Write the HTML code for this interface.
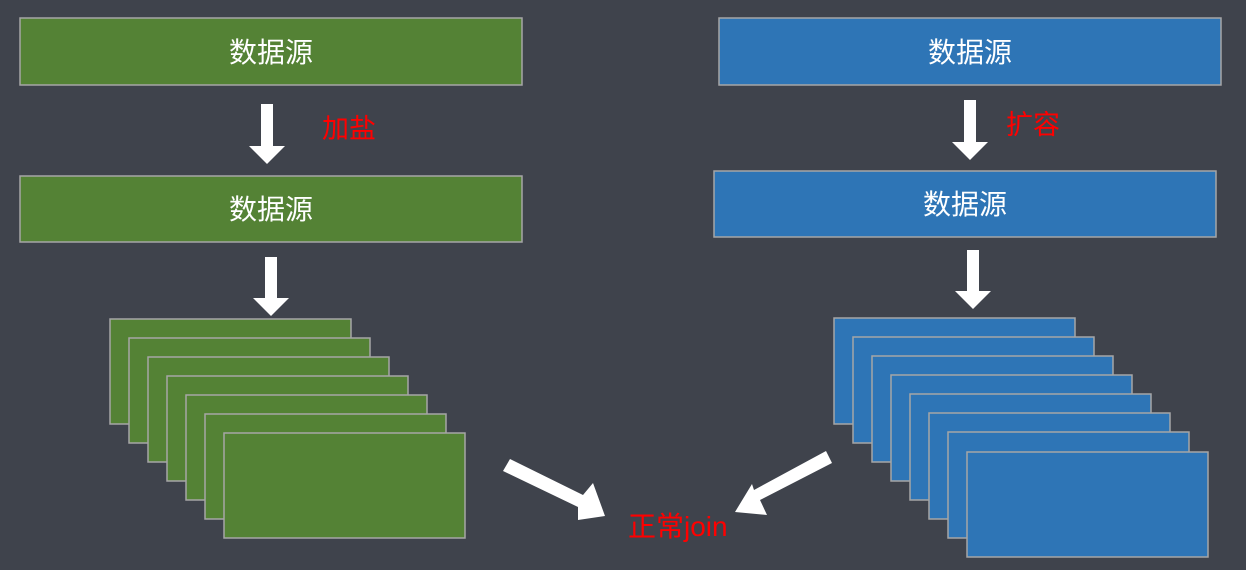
<!DOCTYPE html>
<html><head><meta charset="utf-8"><style>
html,body{margin:0;padding:0;background:#3f434c;}
svg{display:block}
text{font-family:"Liberation Sans","Noto Sans CJK SC",sans-serif;}
</style></head><body>
<svg width="1246" height="570" viewBox="0 0 1246 570" xmlns="http://www.w3.org/2000/svg">
<rect width="1246" height="570" fill="#3f434c"/>
<g stroke="#a6a6a6" stroke-width="1.5">
<rect x="20" y="18" width="502" height="67" fill="#548235"/>
<rect x="20" y="176" width="502" height="66" fill="#548235"/>
<rect x="719" y="18" width="502" height="67" fill="#2e75b6"/>
<rect x="714" y="171" width="502" height="66" fill="#2e75b6"/>
<g fill="#548235">
<rect x="110" y="319" width="241" height="105"/>
<rect x="129" y="338" width="241" height="105"/>
<rect x="148" y="357" width="241" height="105"/>
<rect x="167" y="376" width="241" height="105"/>
<rect x="186" y="395" width="241" height="105"/>
<rect x="205" y="414" width="241" height="105"/>
<rect x="224" y="433" width="241" height="105"/>
</g>
<g fill="#2e75b6">
<rect x="834" y="318" width="241" height="106"/>
<rect x="853" y="337" width="241" height="106"/>
<rect x="872" y="356" width="241" height="106"/>
<rect x="891" y="375" width="241" height="106"/>
<rect x="910" y="394" width="241" height="106"/>
<rect x="929" y="413" width="241" height="106"/>
<rect x="948" y="432" width="241" height="106"/>
<rect x="967" y="452" width="241" height="105"/>
</g>
</g>
<g fill="#fff">
<polygon points="261,104 273,104 273,146 285,146 267,164 249,146 261,146"/>
<polygon points="265,257 277,257 277,298 289,298 271,316 253,298 265,298"/>
<polygon points="964,100 976,100 976,142 988,142 970,160 952,142 964,142"/>
<polygon points="967,250 979,250 979,291 991,291 973,309 955,291 967,291"/>
<polygon points="503,471 510,459 583,495 593,483 605,516 578,520 578,507"/>
<polygon points="826,451 832,463 760,500 767,515 735,512 752,484 754,490"/>
</g>
<g font-size="28" fill="#fff" text-anchor="middle">
<text x="271" y="62">数据源</text>
<text x="271" y="219">数据源</text>
<text x="970" y="62">数据源</text>
<text x="965" y="214">数据源</text>
</g>
<g font-size="27" fill="#ff0000">
<text x="322" y="138">加盐</text>
<text x="1006" y="134">扩容</text>
<text x="628" y="536" font-size="28">正常join</text>
</g>
</svg>
</body></html>
